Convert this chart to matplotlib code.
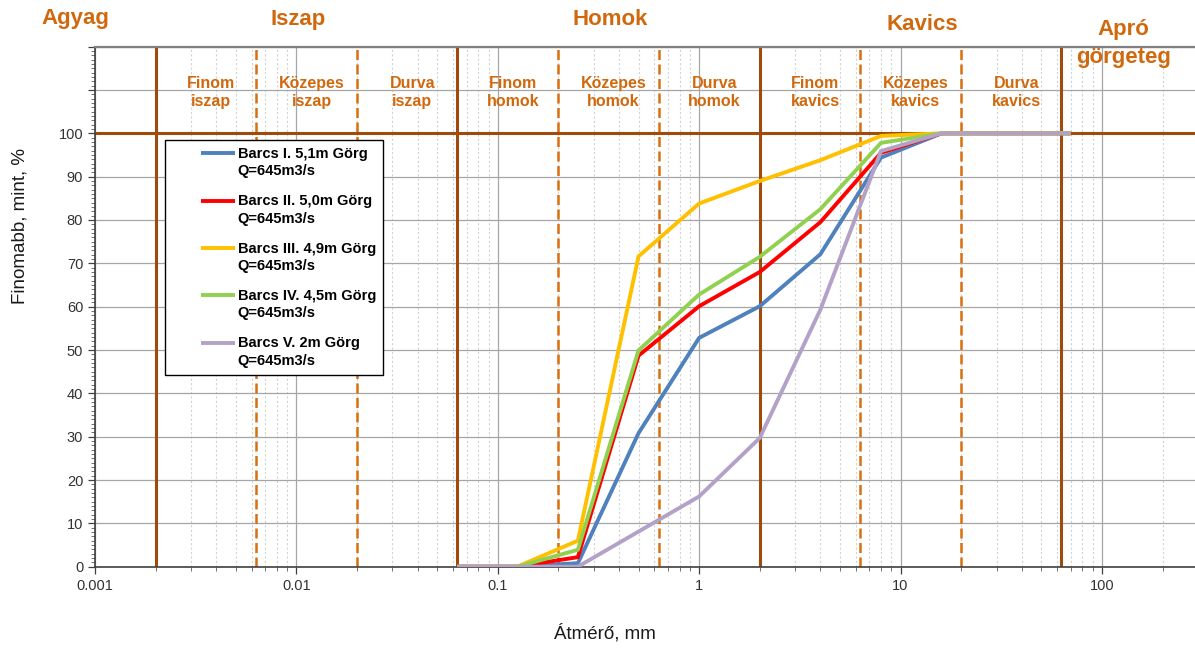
import matplotlib
matplotlib.use("Agg")
import matplotlib.pyplot as plt
import matplotlib.ticker as mticker
from matplotlib.legend_handler import HandlerLine2D
from matplotlib.lines import Line2D
import numpy as np

plt.rcParams["font.family"] = ["Liberation Sans", "DejaVu Sans"]

# sieve sizes (mm) and cumulative passing (%)
SIZES_MM = [0.063, 0.125, 0.25, 0.5, 1, 2, 4, 8, 16, 31.5, 70]
BARCS_I = [0, 0, 0.8, 30.8, 52.8, 60.1, 72.1, 94.4, 100, 100, 100]
BARCS_II = [0, 0, 2.2, 48.7, 60.1, 68.0, 79.5, 95.5, 100, 100, 100]
BARCS_III = [0, 0, 6.0, 71.6, 83.8, 89.0, 93.8, 99.4, 100, 100, 100]
BARCS_IV = [0, 0, 3.9, 49.9, 62.8, 71.5, 82.5, 97.8, 100, 100, 100]
BARCS_V = [0, 0, 0, 8.1, 16.2, 29.7, 59.3, 95.9, 100, 100, 100]

SERIES_LABELS = [
    "Barcs I. 5,1m Görg\nQ=645m3/s",
    "Barcs II. 5,0m Görg\nQ=645m3/s",
    "Barcs III. 4,9m Görg\nQ=645m3/s",
    "Barcs IV. 4,5m Görg\nQ=645m3/s",
    "Barcs V. 2m Görg\nQ=645m3/s",
]
SERIES_COLORS = ["#4F81BD", "#FF0000", "#FFC000", "#92D050", "#B3A2C7"]

# soil fraction boundaries (mm)
MAIN_BOUNDS = [0.002, 0.063, 2, 63]
SUB_BOUNDS = [0.0063, 0.02, 0.2, 0.63, 6.3, 20]
MAIN_CLASSES = ["Agyag", "Iszap", "Homok", "Kavics", "Apró\ngörgeteg"]
SUB_CLASSES = [
    "Finom\niszap", "Közepes\niszap", "Durva\niszap",
    "Finom\nhomok", "Közepes\nhomok", "Durva\nhomok",
    "Finom\nkavics", "Közepes\nkavics", "Durva\nkavics",
]

X_TICKS = [0.001, 0.01, 0.1, 1, 10, 100]
X_TICK_LABELS = ["0.001", "0.01", "0.1", "1", "10", "100"]

BROWN = "#9E4B0C"
ORANGE = "#D8700F"
TEXT_ORANGE = "#D0690E"

# where the class names sit (x in mm, y in axis units)
MAIN_LABEL_POS = [(0.00080, 126.4), (0.0102, 126.2), (0.36, 126.2),
                  (12.8, 125.2), (128, 120.8)]


class TopLineHandler(HandlerLine2D):
    """Legend line level with the first row of a two-row label."""

    def create_artists(self, legend, orig_handle, xdescent, ydescent,
                       width, height, fontsize, trans):
        artists = super().create_artists(legend, orig_handle, xdescent,
                                         ydescent, width, height, fontsize,
                                         trans)
        for a in artists:
            a.set_ydata(np.asarray(a.get_ydata()) + 0.68 * fontsize)
        return artists


def plot():
    fig = plt.figure(figsize=(11.95, 6.48), dpi=100)
    ax = fig.add_axes([0.0795, 0.1255, 0.9205, 0.8025])

    ax.set_xscale("log")
    ax.set_xlim(0.001, 290)
    ax.set_ylim(0, 120)

    # grid
    ax.set_xticks(X_TICKS)
    ax.set_xticklabels(X_TICK_LABELS)
    ax.xaxis.set_minor_locator(mticker.LogLocator(base=10, subs=np.arange(2, 10)))
    ax.xaxis.set_minor_formatter(mticker.NullFormatter())
    ax.set_yticks(np.arange(0, 121, 10))
    ax.set_yticklabels([str(v) if v <= 100 else "" for v in range(0, 121, 10)])
    ax.yaxis.set_minor_locator(mticker.MultipleLocator(1))
    ax.grid(which="major", axis="both", color="#A6A6A6", lw=0.9, zorder=0)
    ax.grid(which="minor", axis="x", color="#D2D2D2", lw=0.8, ls=(0, (2, 2)), zorder=0)
    ax.set_axisbelow(True)

    ax.tick_params(axis="both", which="major", direction="out", length=5,
                   width=0.9, color="#404040", labelsize=10.5, labelcolor="#333333")
    ax.tick_params(axis="both", which="minor", direction="out", length=3,
                   width=0.6, color="#595959")
    ax.tick_params(axis="x", pad=4)

    for side in ("left", "bottom"):
        ax.spines[side].set_color("#404040")
        ax.spines[side].set_linewidth(1.2)
    ax.spines["top"].set_color("#808080")
    ax.spines["top"].set_linewidth(1.6)
    ax.spines["right"].set_visible(False)

    # fraction boundaries
    for b in MAIN_BOUNDS:
        ax.axvline(b, color=BROWN, lw=2.2, zorder=1.5)
    for b in SUB_BOUNDS:
        ax.axvline(b, color=ORANGE, lw=1.8, ls=(0, (4, 1.8)), zorder=1.5)
    ax.axhline(100, color=BROWN, lw=2.2, zorder=1.5)

    # grading curves
    series = [BARCS_I, BARCS_II, BARCS_III, BARCS_IV, BARCS_V]
    for vals, label, color in zip(series, SERIES_LABELS, SERIES_COLORS):
        ax.plot(SIZES_MM, vals, color=color, lw=2.8, label=label, zorder=3,
                solid_joinstyle="miter", solid_capstyle="butt")

    # class names
    edges = [MAIN_BOUNDS[0]] + sorted(SUB_BOUNDS + MAIN_BOUNDS[1:3]) + [MAIN_BOUNDS[3]]
    for i, name in enumerate(SUB_CLASSES):
        xc = np.sqrt(edges[i] * edges[i + 1]) * 1.06
        ax.text(xc, 109.4, name, ha="center", va="center", fontsize=11.5,
                fontweight="bold", color=TEXT_ORANGE, linespacing=1.3, zorder=2)
    for name, (xc, yc) in zip(MAIN_CLASSES, MAIN_LABEL_POS):
        ax.text(xc, yc, name, ha="center", va="center", fontsize=16,
                fontweight="bold", color=TEXT_ORANGE, linespacing=1.45,
                clip_on=False, zorder=2)

    leg = ax.legend(
        loc="upper left", bbox_to_anchor=(0.064, 0.821), borderaxespad=0,
        prop={"size": 10.5, "weight": "bold"}, frameon=True, fancybox=False,
        edgecolor="black", framealpha=1, handlelength=4.3, handletextpad=0.15,
        labelspacing=1.1, borderpad=0.5,
        handler_map={Line2D: TopLineHandler(xpad=1.95)},
    )
    for t in leg.get_texts():
        t.set_linespacing(1.3)
    leg.get_frame().set_linewidth(1.0)
    leg.set_zorder(5)

    fig.text(605 / 1195, 1 - 633 / 648, "Átmérő, mm", ha="center", va="center",
             fontsize=13.5, color="#1A1A1A")
    fig.text(20 / 1195, 1 - 226 / 648, "Finomabb, mint, %", ha="center",
             va="center", rotation=90, fontsize=13.5, color="#1A1A1A")

    fig.savefig("out.png", dpi=100)


if __name__ == "__main__":
    plot()
